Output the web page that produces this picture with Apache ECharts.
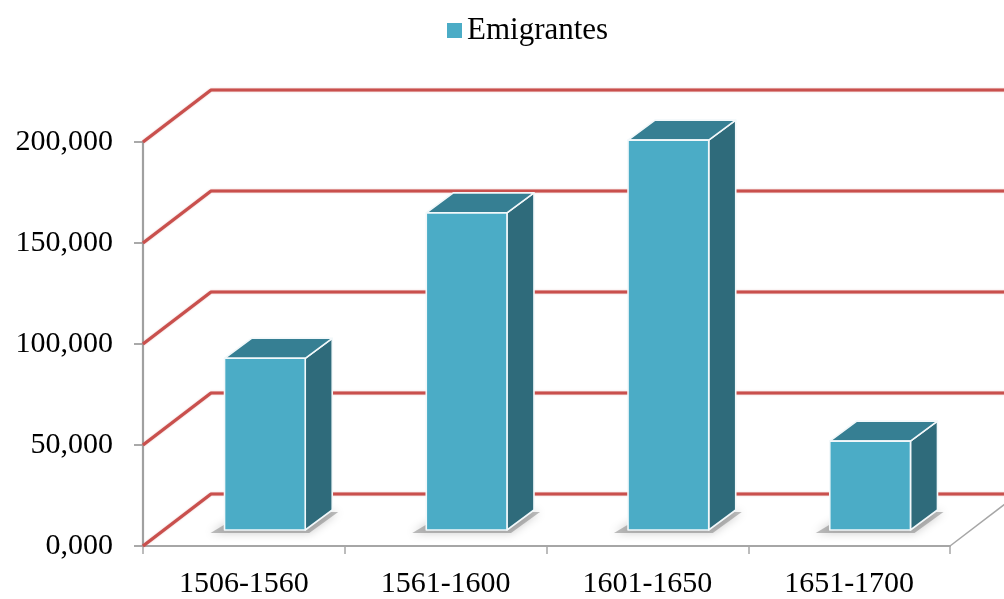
<!DOCTYPE html>
<html>
<head>
<meta charset="utf-8">
<script src="https://cdn.jsdelivr.net/npm/echarts@6/dist/echarts.min.js"></script>
<style>
html,body{margin:0;padding:0;background:#fff;}
#chart{width:1004px;height:599px;}
</style>
</head>
<body>
<div id="chart"></div>
<script>
var categories = ['1506-1560', '1561-1600', '1601-1650', '1651-1700'];
var emigrantes = [85000, 157000, 193000, 44000];
var yTicks = [0, 50000, 100000, 150000, 200000];
var yTickLabels = ['0,000', '50,000', '100,000', '150,000', '200,000'];

var WALL_DX = 68, WALL_DY = 52;   // depth of the floor / side wall
var FLOOR_DX = 21, FLOOR_DY = 16; // where bars sit in depth
var BAR_DX = 27, BAR_DY = 20;     // bar depth
var FONT = '"Liberation Serif", "Times New Roman", serif';

var chart = echarts.init(document.getElementById('chart'));

function wallItem(params, api) {
  var v = api.value(1);
  var cs = params.coordSys;
  var y = api.coord([0, v])[1];
  var x0 = cs.x;
  var children = [{
    type: 'polyline',
    shape: { points: [[x0, y], [x0 + WALL_DX, y - WALL_DY], [api.getWidth() + 10, y - WALL_DY]] },
    style: { stroke: '#C9504D', lineWidth: 3.2, fill: null, lineJoin: 'round', shadowBlur: 1.5, shadowColor: 'rgba(200,80,77,0.5)' }
  }];
  if (v === 0) {
    var x1 = cs.x + cs.width;
    children.push({
      type: 'line',
      shape: { x1: x1, y1: y, x2: x1 + WALL_DX, y2: y - WALL_DY },
      style: { stroke: '#A6A6A6', lineWidth: 1.5 }
    });
  }
  return { type: 'group', children: children };
}

function barItem(params, api) {
  var idx = api.value(0), val = api.value(1);
  var base = api.coord([idx, 0]);
  var top = api.coord([idx, val]);
  var bw = api.size([1, 0])[0] * 0.4;
  var xL = base[0] - bw / 2 + FLOOR_DX;
  var xR = xL + bw;
  var yB = base[1] - FLOOR_DY;
  var yT = top[1] - FLOOR_DY;
  var edge = { stroke: '#F2F8FA', lineWidth: 1.6, lineJoin: 'round' };
  return {
    type: 'group',
    children: [
      {
        type: 'polygon',
        shape: { points: [[xL - 14, yB + 3], [xR + 4, yB + 3], [xR + BAR_DX + 6, yB - BAR_DY + 2], [xL + BAR_DX - 6, yB - BAR_DY + 2]] },
        style: { fill: 'rgba(110,110,110,0.45)', shadowBlur: 10, shadowColor: 'rgba(0,0,0,0.45)' }
      },
      {
        type: 'polygon',
        shape: { points: [[xR, yT], [xR + BAR_DX, yT - BAR_DY], [xR + BAR_DX, yB - BAR_DY], [xR, yB]] },
        style: Object.assign({ fill: '#2F6B7B' }, edge)
      },
      {
        type: 'polygon',
        shape: { points: [[xL, yT], [xL + BAR_DX, yT - BAR_DY], [xR + BAR_DX, yT - BAR_DY], [xR, yT]] },
        style: Object.assign({ fill: '#367F93' }, edge)
      },
      {
        type: 'rect',
        shape: { x: xL, y: yT, width: bw, height: yB - yT },
        style: Object.assign({ fill: '#4BACC6' }, edge)
      }
    ]
  };
}

var option = {
  animation: false,
  backgroundColor: '#ffffff',
  legend: {
    data: ['Emigrantes'],
    left: 447,
    top: 15,
    padding: 0,
    icon: 'rect',
    itemWidth: 15,
    itemHeight: 15,
    itemGap: 7,
    textStyle: { fontFamily: FONT, fontSize: 31, color: '#000' }
  },
  grid: { left: 143, right: 54, top: 142, bottom: 51.5 },
  xAxis: {
    type: 'category',
    data: categories,
    boundaryGap: true,
    axisLine: { show: true, lineStyle: { color: '#A6A6A6', width: 2 } },
    axisTick: { show: true, length: 8, lineStyle: { color: '#A6A6A6', width: 1.5 } },
    axisLabel: { fontFamily: FONT, fontSize: 30, color: '#000', margin: 23 },
    splitLine: { show: false }
  },
  yAxis: {
    type: 'value',
    min: 0,
    max: 200000,
    interval: 50000,
    axisLine: { show: true, lineStyle: { color: '#A0A0A0', width: 2.2 } },
    axisTick: { show: true, length: 9, lineStyle: { color: '#A0A0A0', width: 1.8 } },
    axisLabel: {
      fontFamily: FONT, fontSize: 30, color: '#000', margin: 30,
      formatter: function (v) { var i = yTicks.indexOf(v); return i >= 0 ? yTickLabels[i] : ''; }
    },
    splitLine: { show: false }
  },
  series: [
    {
      type: 'custom',
      name: 'walls',
      renderItem: wallItem,
      data: yTicks.map(function (v) { return [0, v]; }),
      z: 1,
      silent: true
    },
    {
      type: 'custom',
      name: 'Emigrantes',
      renderItem: barItem,
      itemStyle: { color: '#4BACC6' },
      data: emigrantes.map(function (v, i) { return [i, v]; }),
      z: 3
    }
  ]
};
chart.setOption(option);
</script>
</body>
</html>
